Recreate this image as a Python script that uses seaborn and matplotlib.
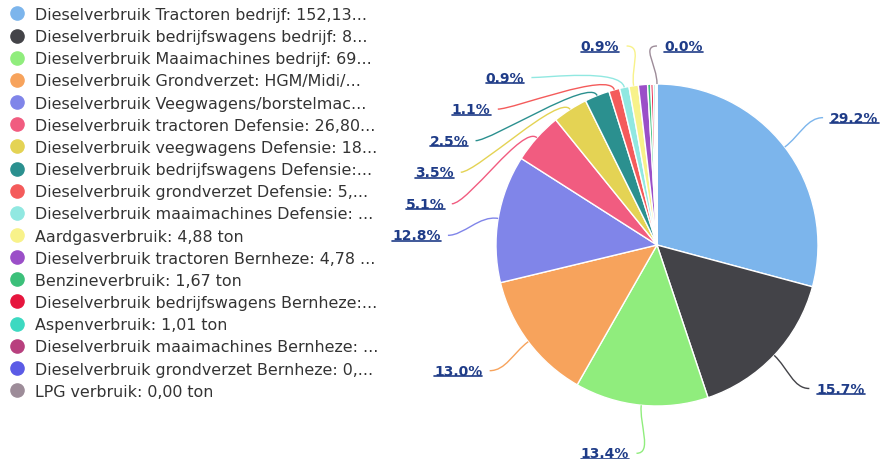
import numpy as np
import matplotlib
matplotlib.use("Agg")
import matplotlib.pyplot as plt
import seaborn as sns
from matplotlib.lines import Line2D
from matplotlib.path import Path
from matplotlib.patches import PathPatch

# legend text as shown (already truncated in the original)
legend_labels = [
    "Dieselverbruik Tractoren bedrijf: 152,13...",
    "Dieselverbruik bedrijfswagens bedrijf: 8...",
    "Dieselverbruik Maaimachines bedrijf: 69...",
    "Dieselverbruik Grondverzet: HGM/Midi/...",
    "Dieselverbruik Veegwagens/borstelmac...",
    "Dieselverbruik tractoren Defensie: 26,80...",
    "Dieselverbruik veegwagens Defensie: 18...",
    "Dieselverbruik bedrijfswagens Defensie:...",
    "Dieselverbruik grondverzet Defensie: 5,...",
    "Dieselverbruik maaimachines Defensie: ...",
    "Aardgasverbruik: 4,88 ton",
    "Dieselverbruik tractoren Bernheze: 4,78 ...",
    "Benzineverbruik: 1,67 ton",
    "Dieselverbruik bedrijfswagens Bernheze:...",
    "Aspenverbruik: 1,01 ton",
    "Dieselverbruik maaimachines Bernheze: ...",
    "Dieselverbruik grondverzet Bernheze: 0,...",
    "LPG verbruik: 0,00 ton",
]
# tons (estimated where the label is cut off)
values_ton = [152.13, 81.8, 69.8, 67.7, 66.7, 26.80, 18.3, 13.0, 5.7, 4.9,
              4.88, 4.78, 1.67, 1.3, 1.01, 0.6, 0.3, 0.0]
slice_colors = ["#7cb5ec", "#434348", "#90ed7d", "#f7a35c", "#8085e9", "#f15c80",
                "#e4d354", "#2b908f", "#f45b5b", "#91e8e1", "#f8f28a", "#9b4fc8",
                "#3cc07a", "#e6163e", "#3dd9c1", "#b8407e", "#5b5be6", "#9d8c99"]
# which slices got a data label in the original
show_label = [True] * 11 + [False] * 6 + [True]

sns.set_theme(style="white")
plt.rcParams['font.family'] = ['DejaVu Sans']

fig = plt.figure(figsize=(8.88, 4.6), dpi=100)
ax = fig.add_axes([0, 0, 1, 1])

ax.pie(values_ton, colors=slice_colors, startangle=90, counterclock=False,
       radius=1, center=(0, 0),
       wedgeprops=dict(edgecolor="white", linewidth=1))

# pie center at (657, 246) px, radius 161 px
scale = 161
ax.set_xlim(-657 / scale, (888 - 657) / scale)
ax.set_ylim(-(460 - 246) / scale, 246 / scale)
ax.axis("off")

# --- data labels, highcharts-like placement ---
vals = np.array(values_ton)
total = vals.sum()
pct = vals / total * 100
cum = np.cumsum(vals) - vals / 2
R_lab = 1.3
step = 0.196
y_top = 1.236
gap = 0.045

items = []
for i, v in enumerate(vals):
    if not show_label[i]:
        continue
    cw = 360 * cum[i] / total
    th = np.radians(90 - cw)
    side = 1 if (round(cw, 3) % 360) < 180 else -1
    items.append(dict(i=i, th=th, side=side, ny=R_lab * np.sin(th)))

# stack labels top-down per side so they don't overlap
for side in (1, -1):
    grp = sorted([d for d in items if d['side'] == side], key=lambda d: -d['ny'])
    prev = np.inf
    for d in grp:
        y = min(d['ny'], prev - step)
        d['x'] = side * np.sqrt(max(R_lab ** 2 - y ** 2, 0))
        d['y'] = min(y, y_top)
        prev = d['y']

label_texts = []
for d in items:
    i, th, side, x, y = d['i'], d['th'], d['side'], d['x'], d['y']
    c = slice_colors[i]
    p0 = (np.cos(th), np.sin(th))
    p1 = (1.12 * np.cos(th), 1.12 * np.sin(th))
    p2 = (x - side * 0.1, y)
    p3 = (x, y)
    path = Path([p0, p1, p2, p3], [Path.MOVETO, Path.CURVE4, Path.CURVE4, Path.CURVE4])
    ax.add_patch(PathPatch(path, facecolor="none", edgecolor=c, lw=1))
    t = ax.text(x + side * gap, y, f"{pct[i]:.1f}%", ha="left" if side > 0 else "right",
                va="center", fontsize=10, fontweight="bold", color="#1f3c88")
    label_texts.append(t)

handles = [Line2D([], [], marker="o", ls="", markersize=9.5,
                  markerfacecolor=c, markeredgecolor=c) for c in slice_colors]
ax.legend(handles, legend_labels, loc="upper left", bbox_to_anchor=(10 / 888, 452 / 460),
          bbox_transform=fig.transFigure, frameon=False, fontsize=11.45,
          labelspacing=0.45, handlelength=0.9, handletextpad=0.65,
          borderaxespad=0, borderpad=0, labelcolor="#333333")

# underline the percentage labels
fig.canvas.draw()
inv = fig.transFigure.inverted()
for t in label_texts:
    bb = t.get_window_extent()
    (x0, y0), (x1, _) = inv.transform([(bb.x0, bb.y0 + 1.5), (bb.x1, bb.y0 + 1.5)])
    fig.add_artist(Line2D([x0, x1], [y0, y0], color="#1f3c88", lw=1.2))

fig.savefig("out.png", dpi=100)
